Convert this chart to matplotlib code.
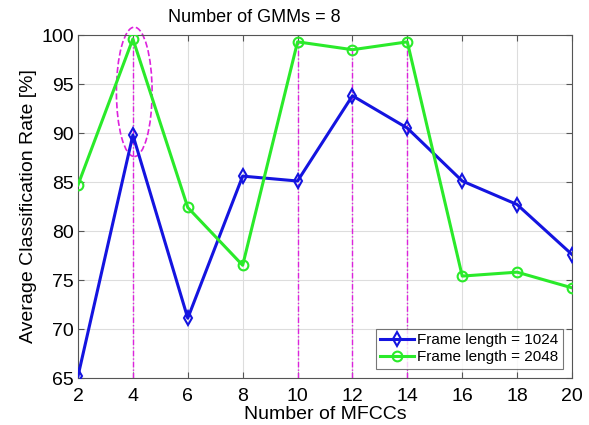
import matplotlib
matplotlib.use("Agg")
import matplotlib.pyplot as plt
from matplotlib.patches import Ellipse

plt.rcParams['font.family'] = ['Liberation Sans', 'DejaVu Sans']

n_mfcc = [2, 4, 6, 8, 10, 12, 14, 16, 18, 20]
rate_1024 = [65.2, 89.8, 71.1, 85.6, 85.1, 93.8, 90.5, 85.1, 82.7, 77.6]
rate_2048 = [84.7, 99.6, 82.4, 76.5, 99.3, 98.5, 99.3, 75.4, 75.8, 74.2]
highlight_x = [4, 10, 12, 14]
highlight_top = [99.6, 99.3, 98.5, 99.3]

fig = plt.figure(figsize=(5.89, 4.25), dpi=100)
ax = fig.add_axes([78/589, 1 - 378/425, (572-78)/589, (378-35)/425])

ax.vlines(highlight_x, 65, highlight_top, colors='#dd22dd', linestyles=(0, (4, 1.5, 1, 1.5)), linewidth=1.0, zorder=1)
ell = Ellipse((4.05, 94.2), 1.3, 13.2, fill=False, edgecolor='#dd22dd', linestyle='--', linewidth=1.2, clip_on=False, zorder=1)
ax.add_patch(ell)

ax.plot(n_mfcc, rate_1024, color='#1414e0', marker='d', markersize=7, markerfacecolor='none',
        markeredgewidth=1.5, linewidth=2.2, label='Frame length = 1024', zorder=3)
ax.plot(n_mfcc, rate_2048, color='#2aea2a', marker='o', markersize=7, markerfacecolor='none',
        markeredgewidth=1.5, linewidth=2.2, label='Frame length = 2048', zorder=3)

ax.set_xlim(2, 20)
ax.set_ylim(65, 100)
ax.set_xticks(n_mfcc)
ax.set_yticks([65, 70, 75, 80, 85, 90, 95, 100])
ax.grid(True, color='#dddddd', linewidth=0.8)
ax.set_axisbelow(True)
ax.tick_params(direction='in', top=True, right=True, labelsize=14, length=4, color='#555555')
ax.tick_params(axis='x', pad=7)
ax.tick_params(axis='y', pad=3)
for s in ax.spines.values():
    s.set_color('#555555')
ax.set_xlabel('Number of MFCCs', fontsize=14, labelpad=1)
ax.set_ylabel('Average Classification Rate [%]', fontsize=14, labelpad=3)
fig.text(254/589, 1 - 17/425, 'Number of GMMs = 8', fontsize=13, ha='center', va='center')
leg = ax.legend(loc='lower right', fontsize=11, frameon=True, fancybox=False, edgecolor='#555555',
                handlelength=2.2, borderaxespad=0.6, borderpad=0.3, handletextpad=0.2, labelspacing=0.2)
leg.get_frame().set_linewidth(0.8)

fig.savefig('out.png', dpi=100)
